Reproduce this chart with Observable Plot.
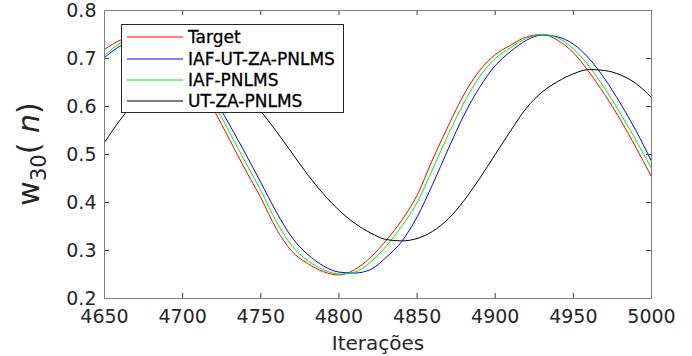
<!DOCTYPE html>
<html><head><meta charset="utf-8">
<script src="https://cdn.jsdelivr.net/npm/d3@7"></script>
<script src="https://cdn.jsdelivr.net/npm/@observablehq/plot@0.6"></script>
<style>
body{margin:0;background:#fff;}
#wrap{position:relative;width:692px;height:356px;}
</style>
</head><body>
<div id="wrap"></div>
<script>
const iterations = [4650,4660,4670,4680,4690,4700,4710,4720,4730,4740,4750,4760,4770,4780,4790,4800,4810,4820,4830,4840,4850,4860,4870,4880,4890,4900,4910,4920,4930,4940,4950,4960,4970,4980,4990,5000];
const target = [0.719,0.738,0.748,0.748,0.735,0.695,0.650,0.593,0.531,0.469,0.410,0.345,0.298,0.273,0.256,0.249,0.260,0.285,0.320,0.362,0.415,0.490,0.560,0.625,0.675,0.708,0.728,0.745,0.750,0.738,0.712,0.672,0.625,0.573,0.515,0.454];
const iafUtZa = [0.702,0.726,0.741,0.748,0.743,0.725,0.690,0.620,0.562,0.503,0.442,0.380,0.327,0.292,0.268,0.255,0.253,0.260,0.285,0.318,0.370,0.438,0.512,0.582,0.640,0.685,0.715,0.738,0.749,0.745,0.730,0.700,0.658,0.607,0.550,0.486];
const iaf = [0.706,0.732,0.745,0.748,0.740,0.710,0.668,0.608,0.546,0.485,0.425,0.360,0.309,0.279,0.260,0.251,0.255,0.275,0.308,0.350,0.400,0.470,0.542,0.608,0.662,0.700,0.723,0.742,0.750,0.743,0.720,0.684,0.638,0.586,0.530,0.471];
const utZa = [0.525,0.572,0.612,0.642,0.664,0.676,0.678,0.670,0.652,0.624,0.590,0.548,0.503,0.458,0.418,0.384,0.357,0.337,0.323,0.320,0.325,0.340,0.366,0.404,0.450,0.500,0.550,0.597,0.630,0.652,0.668,0.677,0.675,0.666,0.648,0.619];
const seriesNames = ["Target","IAF-UT-ZA-PNLMS","IAF-PNLMS","UT-ZA-PNLMS"];
const seriesColors = ["#ff0000","#0000ff","#00ee00","#000000"];
const xTicks = [4650,4700,4750,4800,4850,4900,4950,5000];
const yTicks = [0.2,0.3,0.4,0.5,0.6,0.7,0.8];

const seriesValues = [target, iafUtZa, iaf, utZa];
const rows = [];
seriesValues.forEach((vals, s) => vals.forEach((v, i) => rows.push({series: seriesNames[s], t: iterations[i], v})));

const W = 692, H = 356, mL = 104, mR = 41, mT = 10, mB = 58;
const innerW = W - mL - mR, innerH = H - mT - mB, tick = 5;
const axisGray = "#808080", tickGray = "#404040", textColor = "#262626";

const chart = Plot.plot({
  width: W, height: H,
  marginLeft: mL, marginRight: mR, marginTop: mT, marginBottom: mB,
  style: {fontFamily: "DejaVu Sans", fontSize: "19px", color: textColor, background: "#fff"},
  x: {domain: [4650, 5000]},
  y: {domain: [0.2, 0.8]},
  color: {domain: seriesNames.slice(), range: seriesColors.slice()},
  marks: [
    Plot.line(rows, {x: "t", y: "v", z: "series", stroke: "series", strokeWidth: 1, curve: "monotone-x"}),
    Plot.ruleX(xTicks, {x: d => d, insetTop: innerH - tick, stroke: tickGray}),
    Plot.ruleX(xTicks, {x: d => d, insetBottom: innerH - tick, stroke: tickGray}),
    Plot.ruleY(yTicks, {y: d => d, insetRight: innerW - tick, stroke: tickGray}),
    Plot.ruleY(yTicks, {y: d => d, insetLeft: innerW - tick, stroke: tickGray}),
    Plot.frame({stroke: axisGray}),
    Plot.axisX({ticks: xTicks, tickSize: 0, tickPadding: 11, tickFormat: d => String(d), label: null, fontSize: 19}),
    Plot.axisY({ticks: yTicks, tickSize: 0, tickPadding: 8, tickFormat: d3.format(".1f"), label: null, fontSize: 19}),
    Plot.text(["Iterações"], {frameAnchor: "bottom", dy: 51, fontSize: 20, fill: textColor})
  ]
});

const svg = d3.select(chart);
const yl = svg.append("text")
  .attr("transform", `translate(39,${mT + innerH / 2}) rotate(-90)`)
  .attr("text-anchor", "middle")
  .attr("fill", textColor)
  .attr("font-family", "DejaVu Sans")
  .attr("font-size", 30);
yl.append("tspan").text("w");
yl.append("tspan").attr("font-size", 21).attr("dy", 7).text("30");
yl.append("tspan").attr("dy", -7).text("( ");
yl.append("tspan").attr("font-style", "italic").text("n");
yl.append("tspan").text(")");

// legend box (layout in pixels)
const lg = svg.append("g").attr("font-family", "DejaVu Sans").attr("font-size", 17);
lg.append("rect").attr("x", 121.5).attr("y", 24.5).attr("width", 222).attr("height", 88)
  .attr("fill", "#fff").attr("stroke", "#262626").attr("stroke-width", 1);
const rowY = [37, 59, 80, 101];
seriesNames.forEach((name, i) => {
  lg.append("line").attr("x1", 127).attr("x2", 183).attr("y1", rowY[i]).attr("y2", rowY[i])
    .attr("stroke", seriesColors[i]).attr("stroke-width", 1.2);
  lg.append("text").attr("x", 188).attr("y", rowY[i]).attr("dy", "0.36em")
    .attr("text-anchor", "start").attr("fill", "#000")
    .attr("stroke", "#000").attr("stroke-width", 0.3).text(name);
});

document.getElementById("wrap").appendChild(chart);
</script>
</body></html>
